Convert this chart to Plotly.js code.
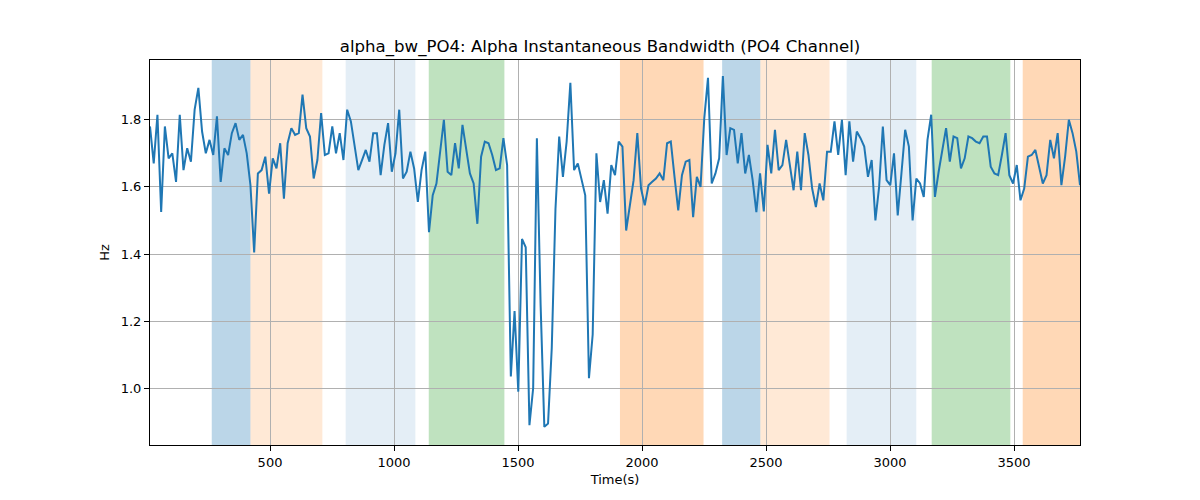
<!DOCTYPE html>
<html>
<head>
<meta charset="utf-8">
<script src="https://cdn.plot.ly/plotly-3.0.1.min.js"></script>
<style>html,body{margin:0;padding:0;background:#fff;}#chart{width:1200px;height:500px;}</style>
</head>
<body>
<div id="chart"></div>
<script>
const times = [
16,31,46,61,76,91,106,121,136,151,
166,181,196,211,226,241,256,271,286,301,
316,331,346,361,376,391,406,421,436,451,
466,481,496,511,526,541,556,571,586,601,
616,631,646,661,676,691,706,721,736,751,
766,781,796,811,826,841,856,871,886,901,
916,931,946,961,976,991,1006,1021,1036,1051,
1066,1081,1096,1111,1126,1141,1156,1171,1186,1201,
1216,1231,1246,1261,1276,1291,1306,1321,1336,1351,
1366,1381,1396,1411,1426,1441,1456,1471,1486,1501,
1516,1531,1546,1561,1576,1591,1606,1621,1636,1651,
1666,1681,1696,1711,1726,1741,1756,1771,1786,1801,
1816,1831,1846,1861,1876,1891,1906,1921,1936,1951,
1966,1981,1996,2011,2026,2041,2056,2071,2086,2101,
2116,2131,2146,2161,2176,2191,2206,2221,2236,2251,
2266,2281,2296,2311,2326,2341,2356,2371,2386,2401,
2416,2431,2446,2461,2476,2491,2506,2521,2536,2551,
2566,2581,2596,2611,2626,2641,2656,2671,2686,2701,
2716,2731,2746,2761,2776,2791,2806,2821,2836,2851,
2866,2881,2896,2911,2926,2941,2956,2971,2986,3001,
3016,3031,3046,3061,3076,3091,3106,3121,3136,3151,
3166,3181,3196,3211,3226,3241,3256,3271,3286,3301,
3316,3331,3346,3361,3376,3391,3406,3421,3436,3451,
3466,3481,3496,3511,3526,3541,3556,3571,3586,3601,
3616,3631,3646,3661,3676,3691,3706,3721,3736,3751,
3766
];

const bandwidth = [
1.78,1.67,1.815,1.525,1.78,1.685,1.70,1.615,1.815,1.65,1.715,1.675,1.83,1.895,1.765,1.70,
1.74,1.695,1.81,1.615,1.715,1.695,1.76,1.79,1.74,1.755,1.70,1.605,1.405,1.64,1.65,1.69,
1.58,1.685,1.655,1.73,1.565,1.73,1.775,1.755,1.76,1.875,1.775,1.75,1.625,1.68,1.82,1.695,
1.70,1.78,1.70,1.76,1.68,1.83,1.795,1.725,1.65,1.68,1.71,1.675,1.76,1.76,1.635,1.725,
1.79,1.645,1.70,1.83,1.625,1.645,1.705,1.655,1.555,1.65,1.705,1.465,1.575,1.61,1.71,1.80,
1.645,1.635,1.73,1.655,1.785,1.71,1.64,1.61,1.49,1.69,1.735,1.73,1.695,1.65,1.655,
1.745,1.665,1.035,1.23,0.99,1.445,1.42,0.89,1.0,1.745,1.25,0.885,0.895,1.12,1.535,1.75,
1.63,1.735,1.91,1.65,1.67,1.62,1.575,1.03,1.16,1.70,1.555,1.62,1.52,1.665,1.635,1.735,
1.72,1.47,1.54,1.62,1.76,1.595,1.545,1.605,1.615,1.625,1.64,1.62,1.73,1.735,1.63,1.53,
1.635,1.675,1.68,1.51,1.63,1.60,1.805,1.925,1.61,1.64,1.685,1.93,1.695,1.775,1.77,
1.67,1.76,1.64,1.695,1.62,1.525,1.64,1.527,1.725,1.64,1.77,1.65,1.665,1.74,1.66,1.59,
1.705,1.59,1.76,1.695,1.595,1.54,1.61,1.56,1.705,1.705,1.795,1.695,1.80,1.635,1.795,1.675,
1.765,1.745,1.72,1.63,1.68,1.50,1.60,1.78,1.62,1.605,1.70,1.515,1.64,1.77,1.72,1.50,
1.625,1.61,1.57,1.74,1.815,1.57,1.645,1.705,1.775,1.675,1.75,1.745,1.655,1.685,1.75,
1.745,1.735,1.73,1.75,1.75,1.66,1.64,1.635,1.695,1.76,1.635,1.61,1.665,1.56,1.595,
1.69,1.695,1.71,1.66,1.61,1.635,1.74,1.685,1.76,1.605,1.69,1.80,1.76,1.705,1.605
];

// shaded intervals (start, end, colour)
const bandStarts = [265, 421, 805, 1140, 1911, 2323, 2477, 2825, 3168, 3535];
const bandEnds   = [421, 711, 1086, 1445, 2248, 2477, 2756, 3106, 3485, 3766];
const bandColors = [
  'rgba(31,119,180,0.3)', 'rgba(255,127,14,0.17)', 'rgba(31,119,180,0.12)', 'rgba(44,160,44,0.3)',
  'rgba(255,127,14,0.3)', 'rgba(31,119,180,0.3)', 'rgba(255,127,14,0.17)', 'rgba(31,119,180,0.12)',
  'rgba(44,160,44,0.3)', 'rgba(255,127,14,0.3)'
];

const xTicks = [500, 1000, 1500, 2000, 2500, 3000, 3500];
const yTicks = [1.0, 1.2, 1.4, 1.6, 1.8];

const shapes = bandStarts.map((s, i) => ({
  type: 'rect', xref: 'x', yref: 'paper', x0: s, x1: bandEnds[i], y0: 0, y1: 1,
  fillcolor: bandColors[i], line: {width: 0}, layer: 'below'
}));

const font = {family: 'DejaVu Sans, sans-serif', size: 13, color: '#000'};

Plotly.newPlot('chart', [{
  x: times, y: bandwidth, type: 'scatter', mode: 'lines',
  line: {color: '#1f77b4', width: 2}, hoverinfo: 'x+y'
}], {
  width: 1200, height: 500,
  margin: {l: 150, r: 120, t: 60, b: 55},
  paper_bgcolor: '#fff', plot_bgcolor: 'rgba(0,0,0,0)',
  font: font,
  showlegend: false,
  title: {text: 'alpha_bw_PO4: Alpha Instantaneous Bandwidth (PO4 Channel)', font: {family: 'DejaVu Sans, sans-serif', size: 16.6, color: '#000'}, x: 0.5, xanchor: 'center', y: 0.908, yanchor: 'middle'},
  xaxis: {
    title: {text: 'Time(s)', font: font, standoff: 6},
    range: [16, 3766], tickvals: xTicks, ticktext: xTicks.map(String),
    showgrid: true, gridcolor: '#b0b0b0', gridwidth: 1,
    zeroline: false, showline: true, linecolor: '#000', linewidth: 1, mirror: true,
    ticks: 'outside', ticklen: 5, tickcolor: '#000', tickfont: font
  },
  yaxis: {
    title: {text: 'Hz', font: font, standoff: 8},
    range: [0.831, 1.978], tickvals: yTicks, ticktext: yTicks.map(v => v.toFixed(1)),
    showgrid: true, gridcolor: '#b0b0b0', gridwidth: 1,
    zeroline: false, showline: true, linecolor: '#000', linewidth: 1, mirror: true,
    ticks: 'outside', ticklen: 5, tickcolor: '#000', tickfont: font
  },
  shapes: shapes
}, {displayModeBar: false, staticPlot: true});
</script>
</body>
</html>
